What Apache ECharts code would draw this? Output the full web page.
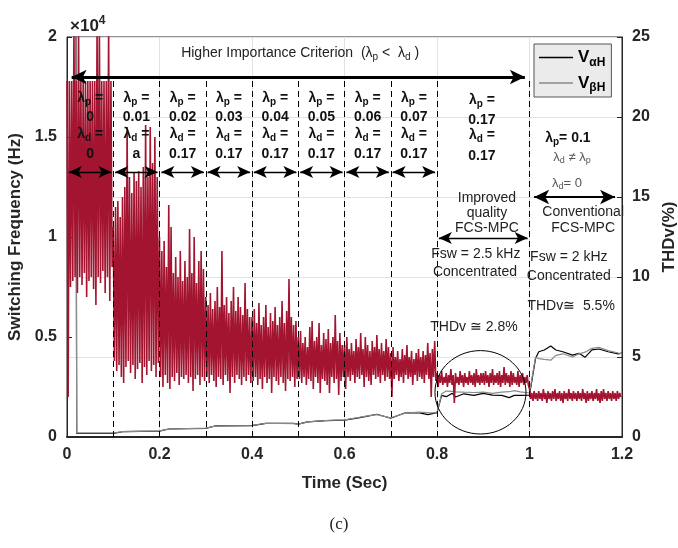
<!DOCTYPE html>
<html><head><meta charset="utf-8">
<script src="https://cdn.jsdelivr.net/npm/echarts@6/dist/echarts.min.js"></script>
<style>html,body{margin:0;padding:0;background:#fff}#c{width:678px;height:548px}</style>
</head><body><div id="c"></div>
<script>
// ---- axis ticks ----
const xTicks = [0, 0.2, 0.4, 0.6, 0.8, 1, 1.2];
const leftTicks = [0, 0.5, 1, 1.5, 2];
const rightTicks = [0, 5, 10, 15, 20, 25];

// ---- switching frequency (x10^4 Hz), envelope per 0.005 s bucket ----
const freqStep = 0.005;
const freqHigh = [
  1.78,1.78,1.78,2.05,1.78,2.05,1.78,1.78,1.78,1.78,1.78,1.78,1.78,2.05,2.05,1.78,1.78,1.78,2.05,1.78,
  1.05,1.15,1.18,1.1,1.2,1.25,1.55,1.3,1.22,1.32,1.28,1.33,1.25,1.35,1.56,1.3,1.55,1.37,1.5,1.3,
  1.0,0.93,0.98,0.85,1.16,1.05,0.82,0.9,0.8,0.93,0.78,0.88,0.8,1.04,0.82,1.0,0.77,0.88,0.93,0.84,
  0.7,0.66,0.72,0.64,0.68,0.75,0.65,0.93,0.66,0.7,0.62,0.68,0.75,0.63,0.7,0.65,0.61,0.77,0.64,0.6,
  0.6,0.64,0.57,0.67,0.56,0.6,0.66,0.55,0.62,0.58,0.65,0.56,0.6,0.68,0.57,0.63,0.79,0.6,0.56,0.58,
  0.5,0.53,0.47,0.5,0.45,0.55,0.58,0.48,0.5,0.57,0.46,0.52,0.49,0.54,0.47,0.5,0.61,0.48,0.52,0.46,
  0.46,0.5,0.44,0.47,0.43,0.49,0.45,0.52,0.44,0.5,0.46,0.43,0.48,0.45,0.51,0.44,0.47,0.43,0.49,0.45,
  0.42,0.45,0.4,0.43,0.39,0.44,0.41,0.46,0.4,0.43,0.39,0.42,0.44,0.4,0.43,0.41,0.47,0.42,0.44,0.48,
  0.32,0.31,0.33,0.3,0.32,0.31,0.34,0.31,0.32,0.3,0.33,0.31,0.32,0.3,0.33,0.31,0.32,0.34,0.31,0.32,
  0.32,0.33,0.31,0.32,0.34,0.31,0.32,0.33,0.31,0.35,0.32,0.31,0.33,0.32,0.3,0.33,0.31,0.32,0.3,0.31,
  0.24,0.22,0.23,0.22,0.23,0.22,0.24,0.22,0.23,0.22,0.23,0.24,0.22,0.23,0.22,0.23,0.22,0.24,0.22,0.23,
  0.22,0.23,0.22,0.24,0.22,0.23,0.22,0.23,0.22,0.24,0.22,0.23,0.24,0.22,0.23,0.22,0.23,0.22,0.23,0.22
];
const freqLow = [
  0.2,0.75,0.78,0.8,0.72,0.8,0.76,0.82,0.7,0.78,0.8,0.74,0.66,0.8,0.77,0.83,0.72,0.8,0.68,0.85,
  0.38,0.33,0.36,0.3,0.27,0.35,0.38,0.32,0.36,0.29,0.34,0.37,0.27,0.35,0.31,0.38,0.33,0.36,0.3,0.37,
  0.3,0.25,0.31,0.27,0.24,0.3,0.28,0.32,0.26,0.3,0.29,0.31,0.27,0.3,0.23,0.29,0.31,0.26,0.3,0.28,
  0.3,0.27,0.31,0.28,0.25,0.3,0.29,0.26,0.31,0.28,0.22,0.3,0.27,0.31,0.29,0.26,0.3,0.28,0.31,0.27,
  0.28,0.3,0.26,0.29,0.24,0.3,0.27,0.29,0.22,0.3,0.28,0.26,0.3,0.27,0.23,0.29,0.28,0.3,0.25,0.29,
  0.29,0.27,0.3,0.26,0.29,0.28,0.24,0.3,0.27,0.22,0.29,0.28,0.26,0.22,0.3,0.27,0.29,0.21,0.28,0.3,
  0.24,0.3,0.28,0.31,0.27,0.3,0.29,0.31,0.25,0.3,0.28,0.26,0.31,0.29,0.3,0.27,0.31,0.28,0.3,0.29,
  0.2,0.29,0.31,0.28,0.3,0.27,0.31,0.29,0.3,0.26,0.31,0.28,0.3,0.29,0.27,0.31,0.29,0.2,0.3,0.28,
  0.25,0.27,0.26,0.27,0.25,0.27,0.26,0.17,0.27,0.26,0.27,0.25,0.27,0.26,0.27,0.26,0.25,0.27,0.26,0.27,
  0.26,0.27,0.25,0.27,0.26,0.27,0.26,0.25,0.27,0.26,0.27,0.25,0.26,0.27,0.26,0.25,0.27,0.26,0.27,0.26,
  0.19,0.18,0.19,0.18,0.19,0.18,0.19,0.17,0.19,0.18,0.19,0.18,0.19,0.18,0.17,0.19,0.18,0.19,0.18,0.19,
  0.18,0.19,0.18,0.19,0.17,0.18,0.19,0.18,0.19,0.18,0.17,0.18,0.19,0.18,0.19,0.18,0.19,0.18,0.19,0.2
];

// ---- THDv (%) ----
const thdTime = [0,0.019,0.021,0.1,0.12,0.2,0.22,0.3,0.32,0.4,0.43,0.49,0.5,0.52,0.56,0.6,0.63,0.65,0.67,0.7,
  0.73,0.76,0.78,0.8,0.81,0.82,0.833,0.84,0.858,0.88,0.9,0.92,0.94,0.956,0.967,0.98,1.0,1.013,1.02,1.032,
  1.046,1.057,1.072,1.093,1.107,1.12,1.135,1.15,1.17,1.192,1.2];
const thdAlpha = [30,30,0.23,0.23,0.33,0.37,0.5,0.54,0.69,0.71,0.85,0.85,0.8,0.95,1.02,1.06,1.2,1.3,1.42,1.17,
  1.5,1.52,1.4,1.52,2.6,2.52,2.73,2.5,2.7,2.6,2.73,2.62,2.6,2.46,2.6,2.6,2.62,4.9,5.33,5.44,
  5.69,5.44,5.33,5.12,5.23,4.98,5.44,5.5,5.33,5.2,5.25];
const thdBeta = [30,30,0.25,0.25,0.34,0.38,0.5,0.55,0.68,0.72,0.86,0.84,0.8,0.94,1.03,1.07,1.22,1.32,1.4,1.2,
  1.48,1.55,1.52,1.5,2.7,2.87,2.85,2.82,2.8,2.78,2.8,2.73,2.8,2.83,2.9,2.82,2.75,5.0,4.9,4.85,
  4.8,5.1,5.2,5.0,5.2,5.3,5.54,5.6,5.4,5.25,5.2];

// ---- stage annotations ----
const dividers = [0.1,0.2,0.3,0.4,0.5,0.6,0.7,0.8,1.0];
const lambdaP = ['0','0.01','0.02','0.03','0.04','0.05','0.06','0.07'];
const lambdaD = ['0','a','0.17','0.17','0.17','0.17','0.17','0.17'];

const F = '"Liberation Sans", Arial, Helvetica, sans-serif';
const chart = echarts.init(document.getElementById('c'), null, {renderer:'canvas'});

const redData = [];
for (let i = 0; i < freqHigh.length; i++) {
  redData.push([i * freqStep, freqHigh[i]]);
  redData.push([i * freqStep + freqStep / 2, freqLow[i]]);
}
const alphaData = thdTime.map((t, i) => [t, thdAlpha[i]]);
const betaData = thdTime.map((t, i) => [t, thdBeta[i]]);

const axisTxt = {fontSize:16, fontWeight:'bold', color:'#262626', fontFamily:F};
const dashData = dividers.map(x => [{coord:[x,0]},{coord:[x,1.8]}]);
const smallArrows = [];
for (let k = 0; k < 8; k++) smallArrows.push([{coord:[k*0.1+0.004,1.325]},{coord:[k*0.1+0.096,1.325]}]);
smallArrows.push([{coord:[0.804,0.995]},{coord:[0.996,0.995]}]);

chart.setOption({
  animation:false,
  backgroundColor:'#fff',
  grid:{left:67,right:56,top:37,bottom:111,show:true,borderColor:'#262626',borderWidth:1,
    containLabel:false,outerBoundsMode:'none'},
  legend:{
    left:534, top:44, orient:'vertical', backgroundColor:'#ebebeb', borderColor:'#555', borderWidth:1,
    padding:[5,6,3,5], itemGap:6, itemWidth:34, itemHeight:1.5, icon:'rect',
    data:['VαH','VβH'],
    formatter: n => n === 'VαH' ? '{v|V}{s|αH}' : '{v|V}{s|βH}',
    textStyle:{fontFamily:F, rich:{
      v:{fontSize:17,fontWeight:'bold',color:'#000',fontFamily:F},
      s:{fontSize:12,fontWeight:'bold',color:'#000',fontFamily:F,padding:[10,0,0,0]}
    }}
  },
  xAxis:{type:'value',min:0,max:1.2,interval:0.2,
    name:'Time (Sec)',nameLocation:'middle',nameGap:38,
    nameTextStyle:{fontSize:17,fontWeight:'bold',color:'#262626',fontFamily:F},
    axisLine:{show:true,lineStyle:{color:'#262626',width:2}},
    axisTick:{show:true,inside:true,length:5,lineStyle:{color:'#262626'}},
    axisLabel:Object.assign({margin:10},axisTxt),
    splitLine:{show:true,lineStyle:{color:'#e2e2e2',width:1}}},
  yAxis:[
    {type:'value',min:0,max:2,interval:0.5,position:'left',
      name:'Switching Frequency (Hz)',nameLocation:'middle',nameGap:33,
      nameTextStyle:{fontSize:17,fontWeight:'bold',color:'#262626',fontFamily:F},
      axisLine:{show:true,lineStyle:{color:'#262626',width:1}},
      axisTick:{show:true,inside:true,length:5,lineStyle:{color:'#262626'}},
      axisLabel:Object.assign({margin:10},axisTxt),
      splitLine:{show:false}},
    {type:'value',min:0,max:25,interval:5,position:'right',
      name:'THDv(%)',nameLocation:'middle',nameGap:34,nameRotate:90,
      nameTextStyle:{fontSize:17,fontWeight:'bold',color:'#262626',fontFamily:F},
      axisLine:{show:true,lineStyle:{color:'#262626',width:1}},
      axisTick:{show:true,inside:true,length:5,lineStyle:{color:'#262626'}},
      axisLabel:Object.assign({margin:10},axisTxt),
      splitLine:{show:true,lineStyle:{color:'#e2e2e2',width:1}}}
  ],
  series:[
    {name:'VαH',type:'line',yAxisIndex:1,data:alphaData,showSymbol:false,symbol:'none',
      color:'#000',lineStyle:{color:'#000',width:1.2},z:2,silent:true},
    {name:'VβH',type:'line',yAxisIndex:1,data:betaData,showSymbol:false,symbol:'none',
      color:'#8a8a8a',lineStyle:{color:'#8a8a8a',width:1.2},z:2,silent:true},
    {name:'Fsw',type:'line',yAxisIndex:0,data:redData,showSymbol:false,symbol:'none',
      color:'#A2142F',lineStyle:{color:'#A2142F',width:1.6},z:3,silent:true},
    {name:'dividers',type:'line',yAxisIndex:0,data:[],z:5,silent:true,
      markLine:{silent:true,symbol:['none','none'],label:{show:false},animation:false,
        lineStyle:{color:'#000',width:1,type:[6,4]},emphasis:{disabled:true},data:dashData}},
    {name:'arrows',type:'line',yAxisIndex:0,data:[],z:6,silent:true,
      markLine:{silent:true,symbol:['arrow','arrow'],symbolSize:[9,13],label:{show:false},animation:false,
        lineStyle:{color:'#000',width:1.3,type:'solid'},emphasis:{disabled:true},data:smallArrows}},
    {name:'arrowsBig',type:'line',yAxisIndex:0,data:[],z:6,silent:true,
      markLine:{silent:true,symbol:['arrow','arrow'],symbolSize:[11,15],label:{show:false},animation:false,
        lineStyle:{color:'#000',width:3,type:'solid'},emphasis:{disabled:true},
        data:[[{coord:[0.01,1.8]},{coord:[0.99,1.8]}],
              [{coord:[1.01,1.2],lineStyle:{width:2.2}},{coord:[1.185,1.2]}]]}}
  ]
});

// ---- text annotations placed in data coordinates ----
const P = (x, y) => chart.convertToPixel({xAxisIndex:0, yAxisIndex:0}, [x, y]);
const rich = {
  b:{fontSize:14,fontWeight:'bold',fill:'#111',fontFamily:F},
  bs:{fontSize:10,fontWeight:'bold',fill:'#111',fontFamily:F,padding:[8,0,0,0]},
  n:{fontSize:14,fill:'#222',fontFamily:F},
  ns:{fontSize:10,fill:'#222',fontFamily:F,padding:[8,0,0,0]},
  g:{fontSize:13,fill:'#555',fontFamily:F},
  gs:{fontSize:9,fill:'#555',fontFamily:F,padding:[8,0,0,0]},
  big:{fontSize:17,fontWeight:'bold',fill:'#262626',fontFamily:F},
  sup:{fontSize:12,fontWeight:'bold',fill:'#262626',fontFamily:F,padding:[0,0,10,0]}
};
const graphics = [];
function T(x, y, text, align) {
  const p = P(x, y);
  graphics.push({type:'text', x:p[0], y:p[1], z:100, silent:true,
    style:{text:text, rich:rich, align:align || 'center', verticalAlign:'middle', fontFamily:F}});
}
for (let k = 0; k < 8; k++) {
  const cx = k * 0.1 + 0.05;
  T(cx, 1.695, '{b|λ}{bs|p}{b| =}');
  T(cx, 1.6, '{b|' + lambdaP[k] + '}');
  T(cx, 1.515, '{b|λ}{bs|d}{b| =}');
  T(cx, 1.415, '{b|' + lambdaD[k] + '}');
}
T(0.897, 1.685, '{b|λ}{bs|p}{b| =}');
T(0.897, 1.585, '{b|0.17}');
T(0.897, 1.51, '{b|λ}{bs|d}{b| =}');
T(0.897, 1.405, '{b|0.17}');
T(1.083, 1.495, '{b|λ}{bs|p}{b|= 0.1}');
T(1.092, 1.40, '{g|λ}{gs|d}{g| ≠ λ}{gs|p}');
T(1.081, 1.27, '{g|λ}{gs|d}{g|= 0}');
T(0.504, 1.92, '{n|Higher Importance Criterion  (λ}{ns|p}{n| <  λ}{ns|d}{n| )}');
T(0.908, 1.195, '{n|Improved}');
T(0.908, 1.12, '{n|quality}');
T(0.908, 1.045, '{n|FCS-MPC}');
T(1.116, 1.125, '{n|Conventional}');
T(1.116, 1.045, '{n|FCS-MPC}');
T(0.884, 0.915, '{n|Fsw = 2.5 kHz}');
T(0.882, 0.825, '{n|Concentrated}');
T(1.085, 0.90, '{n|Fsw = 2 kHz}');
T(1.085, 0.805, '{n|Concentrated}');
T(1.09, 0.655, '{n|THDv≅  5.5%}');
T(0.88, 0.55, '{n|THDv ≅ 2.8%}');

// exponent label of the left axis
graphics.push({type:'text', x:70, y:26, z:100, silent:true,
  style:{text:'{big|×10}{sup|4}', rich:rich, align:'left', verticalAlign:'middle'}});
// figure caption
graphics.push({type:'text', x:339, y:525, z:100, silent:true,
  style:{text:'(c)', fill:'#222', font:'17px "Liberation Serif", "DejaVu Serif", serif', align:'center', verticalAlign:'middle'}});

// highlight ellipse around 0.8–1.0 s
const ec = P(0.894, 0.2235), ee = P(0.894 + 0.0984, 0.2235 - 0.2085);
graphics.push({type:'ellipse', z:90, silent:true,
  shape:{cx:ec[0], cy:ec[1], rx:ee[0]-ec[0], ry:ee[1]-ec[1]},
  style:{fill:'none', stroke:'#000', lineWidth:1}});

chart.setOption({graphic:graphics});
</script></body></html>
